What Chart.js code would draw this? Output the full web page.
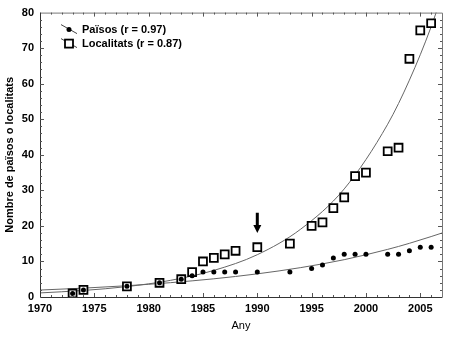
<!DOCTYPE html>
<html>
<head>
<meta charset="utf-8">
<script src="https://cdn.jsdelivr.net/npm/chart.js@4"></script>
<style>
  html, body { margin: 0; padding: 0; background: #fff; }
  #wrap { width: 450px; height: 339px; }
</style>
</head>
<body>
<div id="wrap"><canvas id="chart-area" width="450" height="339"></canvas></div>
<script>
// observed values
var years = [1973, 1974, 1978, 1981, 1983, 1984, 1985, 1986, 1987, 1988, 1990, 1993, 1995, 1996, 1997, 1998, 1999, 2000, 2002, 2003, 2004, 2005, 2006];
var localitats = [1, 2, 3, 4, 5, 7, 10, 11, 12, 13, 14, 15, 20, 21, 25, 28, 34, 35, 41, 42, 67, 75, 77];
var paisos = [1, 2, 3, 4, 5, 6, 7, 7, 7, 7, 7, 7, 8, 9, 11, 12, 12, 12, 12, 12, 13, 14, 14];

// fitted curves
var fitYears = [1970, 1974, 1978, 1982, 1986, 1990, 1994, 1998, 2002, 2004, 2006, 2007];
var fitLocalitats = [1.15, 1.84, 2.93, 4.68, 7.48, 11.9, 19.1, 30.4, 48.6, 61.0, 76.0, 85.0];
var fitPaisos = [1.96, 2.49, 3.17, 4.03, 5.12, 6.51, 8.27, 10.5, 13.4, 15.1, 17.0, 18.0];

var xTicks = [1970, 1975, 1980, 1985, 1990, 1995, 2000, 2005];
var legendLabels = ['Països (r = 0.97)', 'Localitats (r = 0.87)'];
var arrowYear = 1990;
var arrowFrom = 23.7, arrowTo = 18;

var font = 'Liberation Sans, Arial, sans-serif';
Chart.defaults.font.family = font;
Chart.defaults.color = '#000';

function pts(xs, ys) {
	return xs.map(function (x, i) { return { x: x, y: ys[i] }; });
}

var frame = {
	id: 'frame',
	afterDatasetsDraw: function (chart) {
		var ctx = chart.ctx, a = chart.chartArea;
		var xs = chart.scales.x, ys = chart.scales.y;
		ctx.save();
		// box
		ctx.lineWidth = 1;
		ctx.strokeStyle = '#777';
		ctx.beginPath();
		ctx.moveTo(a.left, a.top + 0.5); ctx.lineTo(a.right + 0.5, a.top + 0.5); ctx.lineTo(a.right + 0.5, a.bottom);
		ctx.stroke();
		ctx.strokeStyle = '#333';
		ctx.beginPath();
		ctx.moveTo(a.left + 0.5, a.top); ctx.lineTo(a.left + 0.5, a.bottom + 0.5); ctx.lineTo(a.right + 0.5, a.bottom + 0.5);
		ctx.stroke();
		// minor ticks
		ctx.strokeStyle = '#555';
		ctx.beginPath();
		for (var yr = 1971; yr < 2007; yr++) {
			var px = Math.round(xs.getPixelForValue(yr)) + 0.5;
			var len = yr % 5 === 0 ? 4 : 2;
			ctx.moveTo(px, a.bottom); ctx.lineTo(px, a.bottom - len);
			ctx.moveTo(px, a.top); ctx.lineTo(px, a.top + len);
		}
		for (var v = 2; v < 80; v += 2) {
			var py = Math.round(ys.getPixelForValue(v)) + 0.5;
			var l2 = v % 10 === 0 ? 4 : 2;
			ctx.moveTo(a.left, py); ctx.lineTo(a.left + l2, py);
			ctx.moveTo(a.right, py); ctx.lineTo(a.right - l2, py);
		}
		ctx.stroke();

		// arrow
		var ax = xs.getPixelForValue(arrowYear);
		var y0 = ys.getPixelForValue(arrowFrom), y1 = ys.getPixelForValue(arrowTo);
		ctx.fillStyle = '#000';
		ctx.fillRect(ax - 1.5, y0, 3, (y1 - y0) - 6);
		ctx.beginPath();
		ctx.moveTo(ax - 4, y1 - 8); ctx.lineTo(ax + 4, y1 - 8); ctx.lineTo(ax, y1);
		ctx.closePath();
		ctx.fill();

		// legend
		ctx.font = 'bold 11px ' + font;
		ctx.textBaseline = 'middle';
		var rows = [a.top + 17, a.top + 31];
		rows.forEach(function (ry, i) {
			var cx = a.left + 29;
			ctx.strokeStyle = '#444';
			ctx.lineWidth = 1;
			ctx.beginPath();
			ctx.moveTo(cx - 8, ry - 5); ctx.lineTo(cx + 8, ry + 4);
			ctx.stroke();
			if (i === 0) {
				ctx.beginPath(); ctx.arc(cx, ry, 2.5, 0, Math.PI * 2); ctx.fill();
			} else {
				ctx.fillStyle = '#fff';
				ctx.lineWidth = 1.8;
				ctx.strokeStyle = '#000';
				ctx.fillRect(cx - 4, ry - 4, 8, 8);
				ctx.strokeRect(cx - 4, ry - 4, 8, 8);
				ctx.fillStyle = '#000';
			}
			ctx.fillText(legendLabels[i], a.left + 42, ry);
		});
		ctx.restore();
	}
};

var config = {
	type: 'scatter',
	data: {
		datasets: [{
			label: legendLabels[0],
			data: pts(years, paisos),
			pointStyle: 'circle',
			pointRadius: 2.5,
			backgroundColor: '#000',
			borderColor: '#000',
			borderWidth: 0,
			order: 0
		}, {
			label: legendLabels[1],
			data: pts(years, localitats),
			pointStyle: 'rect',
			pointRadius: 5.6,
			backgroundColor: '#fff',
			borderColor: '#000',
			borderWidth: 1.8,
			order: 1
		}, {
			label: 'fit localitats',
			type: 'line',
			data: pts(fitYears, fitLocalitats),
			borderColor: '#666',
			borderWidth: 1,
			pointRadius: 0,
			cubicInterpolationMode: 'monotone',
			fill: false,
			order: 2
		}, {
			label: 'fit paisos',
			type: 'line',
			data: pts(fitYears, fitPaisos),
			borderColor: '#666',
			borderWidth: 1,
			pointRadius: 0,
			cubicInterpolationMode: 'monotone',
			fill: false,
			order: 2
		}]
	},
	options: {
		responsive: false,
		animation: false,
		layout: { padding: { top: 11, right: 8, left: 0, bottom: 0 } },
		plugins: {
			legend: { display: false },
			tooltip: { enabled: false }
		},
		scales: {
			x: {
				type: 'linear',
				min: 1970,
				max: 2007,
				grid: { display: false, drawTicks: false },
				border: { display: false },
				afterBuildTicks: function (s) {
					s.ticks = xTicks.map(function (v) { return { value: v }; });
				},
				afterFit: function (s) { s.height = 42; },
				ticks: {
					padding: 5, maxRotation: 0, autoSkip: false,
					font: { size: 11, weight: 'bold' },
					callback: function (v) { return String(v); }
				},
				title: { display: true, text: 'Any', padding: { top: 0, bottom: 6 }, font: { size: 11 } }
			},
			y: {
				min: 0,
				max: 80,
				grid: { display: false, drawTicks: false },
				border: { display: false },
				afterFit: function (s) { s.width = 40; },
				ticks: { stepSize: 10, padding: 6, font: { size: 11, weight: 'bold' } },
				title: { display: true, text: 'Nombre de països o localitats', padding: { top: 3, bottom: 0 }, font: { size: 11, weight: 'bold' } }
			}
		}
	},
	plugins: [frame]
};

window.onload = function () {
	var ctx = document.getElementById('chart-area').getContext('2d');
	window.myChart = new Chart(ctx, config);
};
</script>
</body>
</html>
